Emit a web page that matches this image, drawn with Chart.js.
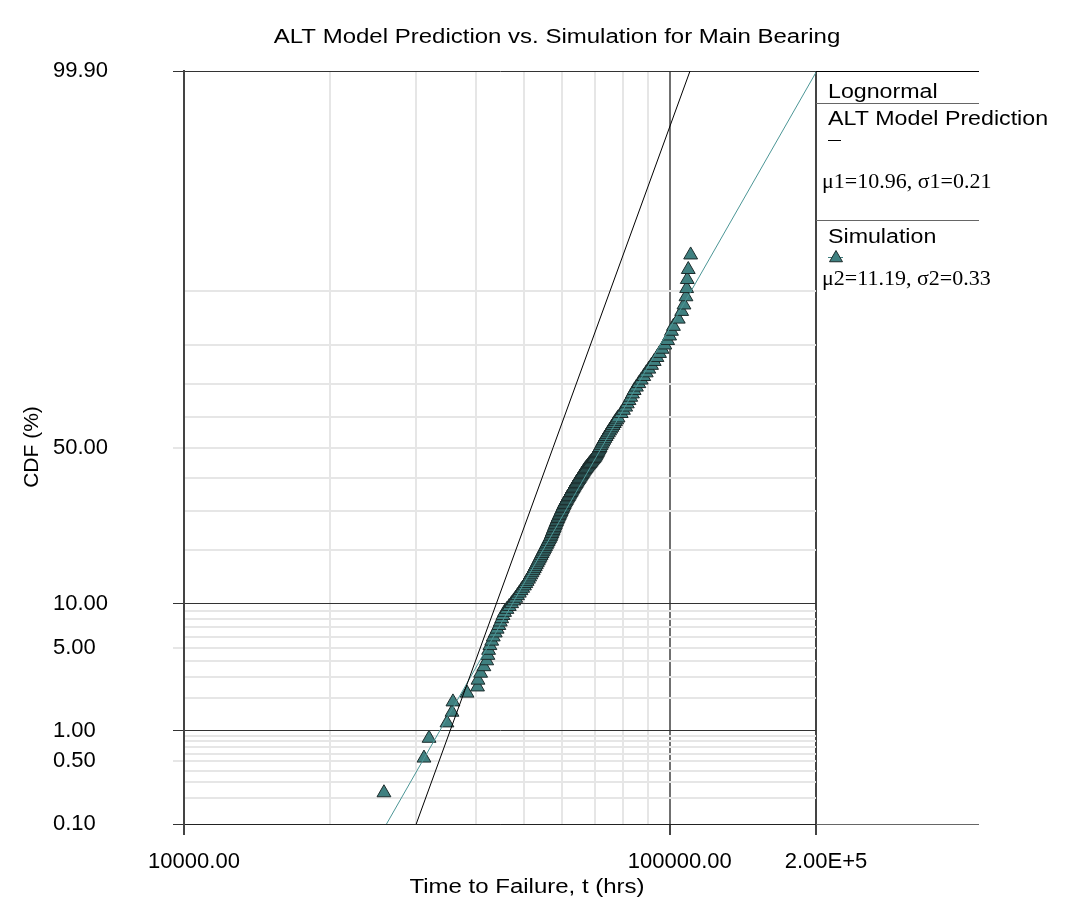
<!DOCTYPE html>
<html>
<head>
<meta charset="utf-8">
<title>ALT Model Prediction vs. Simulation for Main Bearing</title>
<script src="https://cdn.jsdelivr.net/npm/chart.js@4.4.1/dist/chart.umd.min.js"></script>
<style>
  html, body { margin: 0; padding: 0; background: #fff; }
  #wrap { width: 1067px; height: 909px; }
</style>
</head>
<body>
<div id="wrap"><canvas id="myChart" width="1067" height="909"></canvas></div>
<script>
// simulated failure times (hrs) with their plotted CDF (%)
const simTime = [
  25800, 31190, 31950, 34780, 35620, 35780, 38250, 40200, 40290,
  40800, 41430, 41990, 42230, 42370, 42640, 43000, 43320, 43730, 44120, 44480, 44790, 45080, 45360, 45690, 46210, 46730,
  47250, 47730, 48180, 48600, 49010, 49410, 49800, 50210, 50540, 50850, 51170, 51460, 51750, 52040, 52340, 52610, 52860, 53110, 53360, 53610, 53850,
  54090, 54330, 54570, 54800, 55040, 55260, 55490, 55720, 55950, 56170, 56390, 56620, 56820, 56990, 57170, 57330, 57500, 57670, 57830, 57990,
  58150, 58310, 58480, 58650, 58820, 59000, 59190, 59370, 59550, 59740, 59910, 60090, 60270, 60450, 60630, 60830, 61030, 61250, 61470, 61690,
  61910, 62140, 62350, 62580, 62800, 63020, 63240, 63470, 63700, 63940, 64180, 64420, 64670, 64910, 65150, 65420, 65670, 65910, 66160, 66410,
  66670, 66940, 67240, 67550, 67870, 68190, 68510, 68830, 69150, 69480, 69780, 70090, 70350, 70560, 70770, 70980, 71190, 71400, 71630, 71840,
  72170, 72490, 72820, 73160, 73530, 73940, 74340, 74750, 75170, 75590, 76010, 76430, 76860, 77320, 77770, 78250,
  79430, 80280, 81130, 81770, 82420, 83110, 83780, 84470, 85380, 86350, 87360, 88390, 89440, 90540, 91710, 92890, 94100, 95250, 96450, 97700,
  99000, 99920, 100810, 101750,
  104110, 105800, 106960, 107980, 108330, 108640, 109160, 110400
];
const simCdf = [
  0.23, 0.54, 0.85, 1.19, 1.49, 1.84, 2.19, 2.47, 2.81,
  3.2, 3.6, 4.0, 4.4, 4.8, 5.2, 5.6, 6.0, 6.4, 6.8, 7.2, 7.6, 8.0, 8.4, 8.8, 9.2, 9.6,
  10.0, 10.4, 10.8, 11.2, 11.6, 12.0, 12.4, 12.8, 13.2, 13.6, 14.0, 14.4, 14.8, 15.2, 15.6, 16.0, 16.4, 16.8, 17.2, 17.6, 18.0,
  18.4, 18.8, 19.2, 19.6, 20.0, 20.4, 20.8, 21.2, 21.6, 22.0, 22.4, 22.8, 23.2, 23.6, 24.0, 24.4, 24.8, 25.2, 25.6, 26.0,
  26.4, 26.8, 27.2, 27.6, 28.0, 28.4, 28.8, 29.2, 29.6, 30.0, 30.4, 30.8, 31.2, 31.6, 32.0, 32.4, 32.8, 33.2, 33.6, 34.0,
  34.4, 34.8, 35.2, 35.6, 36.0, 36.4, 36.8, 37.2, 37.6, 38.0, 38.4, 38.8, 39.2, 39.6, 40.0, 40.4, 40.8, 41.2, 41.6, 42.0,
  42.4, 42.8, 43.2, 43.6, 44.0, 44.4, 44.8, 45.2, 45.6, 46.0, 46.4, 46.8, 47.2, 47.6, 48.0, 48.4, 48.8, 49.2, 49.6, 50.0,
  50.6, 51.2, 51.8, 52.4, 53.0, 53.6, 54.2, 54.8, 55.4, 56.0, 56.6, 57.2, 57.8, 58.4, 59.0, 59.6,
  61, 62, 63, 64, 65, 66, 67, 68, 69, 70, 71, 72, 73, 74, 75, 76, 77, 78, 79, 80,
  81, 82, 83, 84,
  85.4, 86.8, 87.9, 89.2, 90.4, 91.6, 92.8, 94.3
];

// lognormal parameters printed in the legend
const altMu = 10.96, altSigma = 0.21;
const simMu = 11.19, simSigma = 0.33;

// probability (y) axis
const cdfGrid = [0.1, 0.2, 0.3, 0.4, 0.5, 0.6, 0.7, 0.8, 0.9, 1, 2, 3, 4, 5, 6, 7, 8, 9,
                 10, 20, 30, 40, 50, 60, 70, 80, 90, 99.9];
const cdfMajor = [0.1, 1, 10, 99.9];
const cdfTickVals = [0.1, 0.5, 1, 5, 10, 50, 99.9];
const cdfTickText = ['0.10', '0.50', '1.00', '5.00', '10.00', '50.00', '99.90'];

// time (x) axis
const timeGrid = [10000, 20000, 30000, 40000, 50000, 60000, 70000, 80000, 90000, 100000, 200000];
const timeTickVals = [10000, 100000, 200000];
const timeTickText = ['10000.00', '100000.00', '2.00E+5'];

const SANS = "'Liberation Sans', Arial, sans-serif";
const SERIF = "'Liberation Serif', 'Times New Roman', serif";
const TEAL = '#3f8080';
const LIGHT = '#e6e6e6';

// inverse standard normal (Acklam)
function probit(p) {
  const a = [-3.969683028665376e+01, 2.209460984245205e+02, -2.759285104469687e+02, 1.383577518672690e+02, -3.066479806614716e+01, 2.506628277459239e+00];
  const b = [-5.447609879822406e+01, 1.615858368580409e+02, -1.556989798598866e+02, 6.680131188771972e+01, -1.328068155288572e+01];
  const c = [-7.784894002430293e-03, -3.223964580411365e-01, -2.400758277161838e+00, -2.549671010228016e+00, 4.374664141464968e+00, 2.938163982698783e+00];
  const d = [7.784695709041462e-03, 3.224671290700398e-01, 2.445134137142996e+00, 3.754408661907416e+00];
  const lo = 0.02425;
  let q, r;
  if (p < lo) {
    q = Math.sqrt(-2 * Math.log(p));
    return (((((c[0]*q+c[1])*q+c[2])*q+c[3])*q+c[4])*q+c[5]) / ((((d[0]*q+d[1])*q+d[2])*q+d[3])*q+1);
  }
  if (p > 1 - lo) {
    q = Math.sqrt(-2 * Math.log(1 - p));
    return -(((((c[0]*q+c[1])*q+c[2])*q+c[3])*q+c[4])*q+c[5]) / ((((d[0]*q+d[1])*q+d[2])*q+d[3])*q+1);
  }
  q = p - 0.5; r = q * q;
  return (((((a[0]*r+a[1])*r+a[2])*r+a[3])*r+a[4])*r+a[5])*q / (((((b[0]*r+b[1])*r+b[2])*r+b[3])*r+b[4])*r+1);
}
const zOf = pct => probit(pct / 100);

const simPoints = simTime.map((t, i) => ({ x: t, y: zOf(simCdf[i]) }));
// straight lines of the two fitted lognormals across the plotted range
function fitLine(mu, sigma) {
  return [cdfGrid[0], cdfGrid[cdfGrid.length - 1]].map(p => ({ x: Math.exp(mu + sigma * zOf(p)), y: zOf(p) }));
}

// draws text squeezed/stretched horizontally, like the original export
function drawText(ctx, txt, x, y, font, sx, align) {
  ctx.save();
  ctx.font = font;
  ctx.textAlign = align || 'left';
  ctx.textBaseline = 'alphabetic';
  ctx.fillStyle = '#000';
  ctx.translate(x, y);
  ctx.scale(sx, 1);
  ctx.fillText(txt, 0, 0);
  ctx.restore();
}

function hline(ctx, x1, x2, y, color, w) {
  ctx.beginPath();
  ctx.strokeStyle = color;
  ctx.lineWidth = w;
  ctx.moveTo(x1, y);
  ctx.lineTo(x2, y);
  ctx.stroke();
}

const extras = {
  id: 'extras',
  afterDraw(chart) {
    const { ctx, chartArea: a } = chart;
    const L = a.right, R = 979;
    ctx.save();
    // right hand panel lines
    hline(ctx, L, R, a.top + 0.5, '#000', 1);
    hline(ctx, L, R, 103.5, '#666', 1);
    hline(ctx, L, R, 220.5, '#666', 1);
    hline(ctx, L, R, a.bottom + 0.5, '#666', 1);

    // legend
    drawText(ctx, 'Lognormal', L + 12, 98, '20px ' + SANS, 1.16);
    drawText(ctx, 'ALT Model Prediction', L + 12, 125, '20px ' + SANS, 1.16);
    hline(ctx, L + 12, L + 25, 140.5, '#000', 1);
    drawText(ctx, '\u03bc1=10.96, \u03c31=0.21', L + 6, 188, '22px ' + SERIF, 1);
    drawText(ctx, 'Simulation', L + 12, 243, '20px ' + SANS, 1.16);
    hline(ctx, L + 12, L + 27, 257.5, TEAL, 1);
    ctx.beginPath();
    const cx = L + 20, cy = 258, r = 7.5;
    ctx.moveTo(cx, cy - r);
    ctx.lineTo(cx + r * 0.866, cy + r / 2);
    ctx.lineTo(cx - r * 0.866, cy + r / 2);
    ctx.closePath();
    ctx.fillStyle = TEAL;
    ctx.fill();
    ctx.strokeStyle = '#1c2b2b';
    ctx.lineWidth = 1;
    ctx.stroke();
    drawText(ctx, '\u03bc2=11.19, \u03c32=0.33', L + 6, 285, '22px ' + SERIF, 1);

    // titles
    drawText(ctx, 'ALT Model Prediction vs. Simulation for Main Bearing', 557, 43, '20px ' + SANS, 1.2, 'center');
    drawText(ctx, 'Time to Failure, t (hrs)', 527, 893, '20px ' + SANS, 1.2, 'center');
    ctx.save();
    ctx.translate(38, 447);
    ctx.rotate(-Math.PI / 2);
    drawText(ctx, 'CDF (%)', 0, 0, '20px ' + SANS, 1.05, 'center');
    ctx.restore();
    ctx.restore();
  }
};

new Chart('myChart', {
  type: 'scatter',
  data: {
    datasets: [
      {
        label: 'ALT Model Prediction',
        data: fitLine(altMu, altSigma),
        showLine: true,
        borderColor: '#000',
        borderWidth: 1,
        pointRadius: 0,
        order: 0
      },
      {
        label: 'Simulation fit',
        data: fitLine(simMu, simSigma),
        showLine: true,
        borderColor: '#4c9696',
        borderWidth: 1,
        pointRadius: 0,
        order: 0
      },
      {
        label: 'Simulation',
        data: simPoints,
        pointStyle: 'triangle',
        pointRadius: 8,
        backgroundColor: TEAL,
        borderColor: '#1c2b2b',
        borderWidth: 1,
        order: 1
      }
    ]
  },
  options: {
    responsive: false,
    animation: false,
    devicePixelRatio: 1,
    layout: { padding: { left: 53, top: 71, right: 251, bottom: 0 } },
    plugins: {
      legend: { display: false },
      tooltip: { enabled: false },
      title: { display: false }
    },
    scales: {
      x: {
        type: 'logarithmic',
        min: 10000,
        max: 200000,
        afterBuildTicks: s => { s.ticks = timeGrid.map(v => ({ value: v })); },
        afterFit: s => { s.height = 85; },
        ticks: {
          autoSkip: false,
          maxRotation: 0,
          minRotation: 0,
          labelOffset: 10,
          padding: 14,
          color: '#000',
          font: { family: SANS, size: 22 },
          callback: v => {
            const k = timeTickVals.indexOf(v);
            return k < 0 ? '' : timeTickText[k];
          }
        },
        grid: {
          color: c => {
            const v = c.tick ? c.tick.value : 0;
            if (v === 100000) return '#707070';
            if (v === 200000 || v === 10000) return '#444';
            return LIGHT;
          },
          lineWidth: 2,
          tickLength: 11,
          tickColor: c => (c.tick && timeTickVals.includes(c.tick.value)) ? '#444' : 'rgba(0,0,0,0)'
        },
        border: { color: '#222', width: 1 }
      },
      y: {
        type: 'linear',
        min: zOf(0.1),
        max: zOf(99.9),
        afterBuildTicks: s => { s.ticks = cdfGrid.map(p => ({ value: zOf(p) })); },
        afterFit: s => { s.width = 131; },
        ticks: {
          autoSkip: false,
          crossAlign: 'far',
          color: '#000',
          font: { family: SANS, size: 22 },
          callback: (v, i) => {
            const k = cdfTickVals.indexOf(cdfGrid[i]);
            return k < 0 ? '' : cdfTickText[k];
          }
        },
        grid: {
          color: c => cdfMajor.includes(cdfGrid[c.index]) ? '#333' : LIGHT,
          lineWidth: c => cdfMajor.includes(cdfGrid[c.index]) ? 1 : 2,
          tickLength: 11,
          tickColor: c => {
            const p = cdfGrid[c.index];
            if (cdfMajor.includes(p)) return '#333';
            return cdfTickVals.includes(p) ? LIGHT : 'rgba(0,0,0,0)';
          }
        },
        border: { color: '#444', width: 2 }
      }
    }
  },
  plugins: [extras]
});
</script>
</body>
</html>
